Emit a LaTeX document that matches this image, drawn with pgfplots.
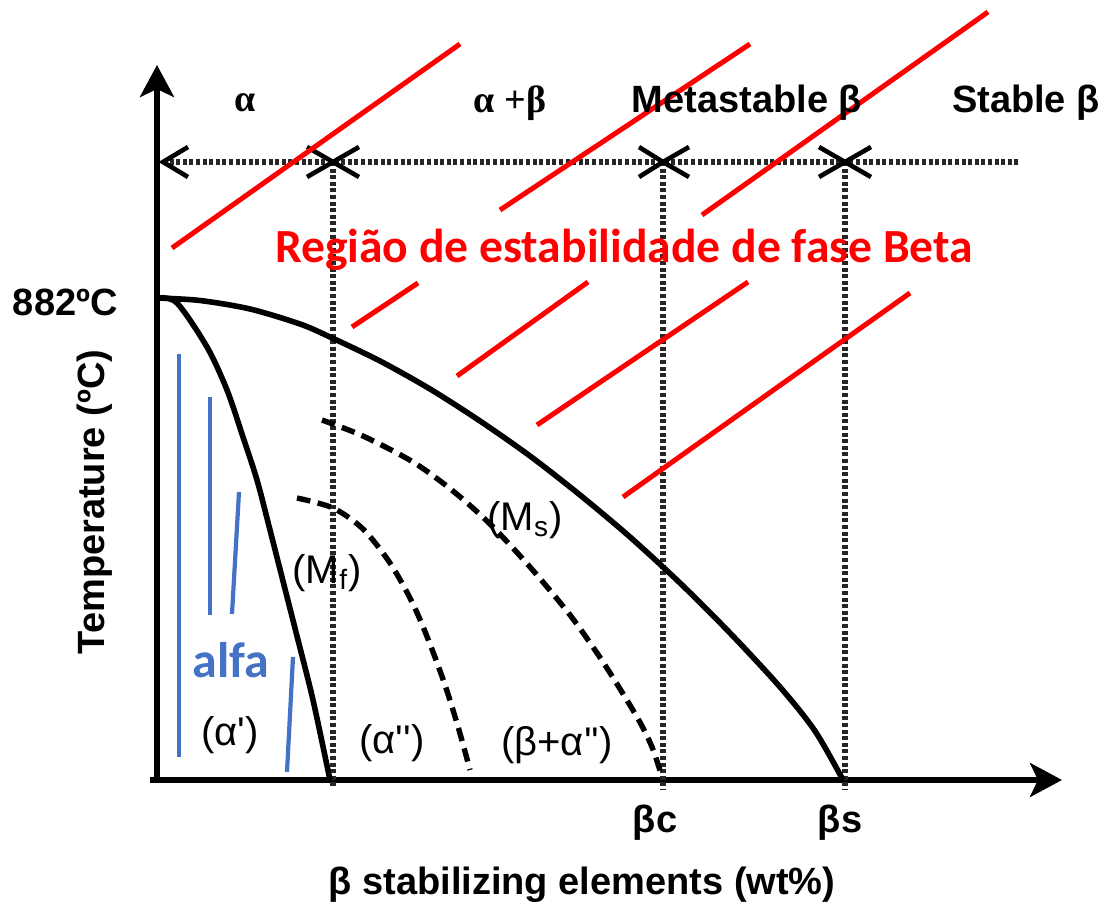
\documentclass[border=0pt]{standalone}
\usepackage{pgfplots}
\pgfplotsset{compat=1.18}
\usetikzlibrary{arrows.meta}
\usepackage{fontspec}
\setmainfont{Liberation Sans}
\newfontfamily\calibri{Carlito}
\newfontfamily\serifgr{Liberation Serif}
\definecolor{refred}{RGB}{255,0,0}
\definecolor{refblue}{RGB}{68,114,196}
\newcommand\lab{\bfseries\fontsize{19}{23}\selectfont}
\newcommand\cur{\fontsize{20}{24}\selectfont}
\begin{document}
\begin{tikzpicture}
\begin{axis}[name=ax, hide axis, scale only axis, width=550pt, height=453.5pt,
  xmin=0, xmax=1100, ymin=0, ymax=907, clip=false]
% axes
\addplot[black, line width=2.8pt, -{Stealth[length=16pt,width=17pt,inset=4pt]}] coordinates {(157,125) (157,842)};
\addplot[black, line width=2.8pt, -{Stealth[length=16pt,width=17pt,inset=4pt]}] coordinates {(150,127) (1062,127)};
% dotted guide lines
\addplot[black!85, line width=2.7pt, dash pattern=on 2pt off 1.3pt] coordinates {(163,745) (1018,745)};
\addplot[black!85, line width=2.7pt, dash pattern=on 2pt off 1.3pt] coordinates {(333,745) (333,120)};
\addplot[black!85, line width=2.7pt, dash pattern=on 2pt off 1.3pt] coordinates {(663,745) (663,117)};
\addplot[black!85, line width=2.7pt, dash pattern=on 2pt off 1.3pt] coordinates {(845,745) (845,117)};
% arrow heads on the guide line
\addplot[black, line width=2.3pt] coordinates {(188,760) (163,745) (188,730)};
\addplot[black, line width=2.3pt] coordinates {(307,760) (333,745) (307,730)};
\addplot[black, line width=2.3pt] coordinates {(359,760) (333,745) (359,730)};
\addplot[black, line width=2.3pt] coordinates {(639,760) (663,745) (639,730)};
\addplot[black, line width=2.3pt] coordinates {(689,760) (663,745) (689,730)};
\addplot[black, line width=2.3pt] coordinates {(819,760) (845,745) (819,730)};
\addplot[black, line width=2.3pt] coordinates {(871,760) (845,745) (871,730)};
% beta transus
\addplot[black, line width=2.8pt, smooth] coordinates {(158,609) (200,606.5) (250,598) (300,583) (330,570) (380,546) (430,518) (480,486) (530,451) (580,412) (630,370) (680,324) (730,274) (780,220) (815,176) (843,127)};
% Mf
\addplot[black, line width=2.8pt, smooth] coordinates {(158,609) (177,604) (207,560) (227,517) (243,470) (257,427) (270,377) (284,322) (298,267) (313,207) (330,127)};
% Ms dashed
\addplot[black, line width=2.7pt, smooth, dash pattern=on 6.8pt off 3.8pt] coordinates {(322,487) (363,471) (413,445) (453,416) (490,383) (530,340) (570,292) (603,245) (637,190) (652,160) (662,130)};
% alpha'' dashed
\addplot[black, line width=2.7pt, smooth, dash pattern=on 6.8pt off 3.8pt] coordinates {(297,409) (333,399) (363,378) (390,344) (412,305) (428,268) (445,222) (459,177) (470,137)};
% blue lines
\addplot[refblue, line width=2.1pt] coordinates {(179,553) (179,150)};
\addplot[refblue, line width=2.1pt] coordinates {(210,510) (210,292)};
\addplot[refblue, line width=2.1pt] coordinates {(239,415) (232,293)};
\addplot[refblue, line width=2.1pt] coordinates {(293,250) (287,135)};
% red lines
\addplot[refred, line width=2.5pt] coordinates {(172,659) (460,863)};
\addplot[refred, line width=2.5pt] coordinates {(352,580) (418,624)};
\addplot[refred, line width=2.5pt] coordinates {(500,697) (750,863)};
\addplot[refred, line width=2.5pt] coordinates {(457,531) (588,625)};
\addplot[refred, line width=2.5pt] coordinates {(702,692) (988,895)};
\addplot[refred, line width=2.5pt] coordinates {(537,482) (748,625)};
\addplot[refred, line width=2.5pt] coordinates {(623,410) (910,614)};
% texts
\node at (axis cs:245,804) {\lab\serifgr α};
\node at (axis cs:510,804) {\lab\serifgr α +β};
\node at (axis cs:747,804) {\lab Metastable β};
\node[anchor=west] at (axis cs:945,804) {\lab Stable β};
\node[anchor=east, inner sep=0pt] at (axis cs:118,605) {\lab 882ºC};
\node[rotate=90] at (axis cs:95,405) {\lab Temperature (ºC)};
\node at (axis cs:582,22) {\lab β stabilizing elements (wt\%)};
\node at (axis cs:655,84) {\lab βc};
\node at (axis cs:840,84) {\lab βs};
\node at (axis cs:525,387) {\cur (M\textsubscript{s})};
\node at (axis cs:327,334) {\cur (M\textsubscript{f})};
\node at (axis cs:230,172) {\cur (α\textquotesingle)};
\node at (axis cs:392,164) {\cur (α\textquotesingle\textquotesingle)};
\node at (axis cs:557,162) {\cur (β+α\textquotesingle\textquotesingle)};
\node[text=refblue] at (axis cs:231,247) {\calibri\bfseries\fontsize{25}{30}\selectfont alfa};
\node[text=refred] at (axis cs:624,657) {\calibri\bfseries\fontsize{23.8}{28}\selectfont Região de estabilidade de fase Beta};
\end{axis}
\pgfresetboundingbox
\useasboundingbox (ax.south west) rectangle (ax.north east);
\end{tikzpicture}
\end{document}
